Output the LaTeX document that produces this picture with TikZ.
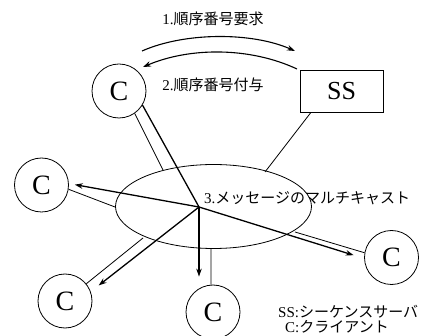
\documentclass[tikz,border=0pt]{standalone}
\usepackage{fontspec}
\setmainfont{Liberation Serif}
\newfontfamily\jp{Noto Sans CJK JP}
\usetikzlibrary{shapes.geometric,arrows.meta}
\begin{document}
\begin{tikzpicture}[x=1pt,y=-1pt,
  cli/.style={circle,draw,line width=0.8pt,minimum size=54pt,inner sep=0pt,font=\fontsize{28}{30}\selectfont},
  srv/.style={rectangle,draw,line width=0.8pt,minimum width=83pt,minimum height=42pt,inner sep=0pt,font=\fontsize{26}{28}\selectfont},
  thinline/.style={line width=0.8pt},
  msg/.style={line width=1.3pt,-{Stealth[length=8pt,width=5.5pt]}},
  msgline/.style={line width=1.3pt},
  req/.style={line width=1.1pt,-{Stealth[length=8pt,width=5.5pt]}},
  lbl/.style={font=\fontsize{15}{17}\selectfont,inner sep=0pt}]
\useasboundingbox (0,0) rectangle (428,336);
% network
\node[ellipse,draw,line width=0.8pt,minimum width=196pt,minimum height=84pt,inner sep=0pt] (net) at (213.5,206.5) {};
% clients and server
\node[cli] (ctop) at (119,91) {C};
\node[cli] (cleft) at (41.5,185) {C};
\node[cli] (cbl) at (65,301) {C};
\node[cli] (cbot) at (213,312) {C};
\node[cli] (cright) at (391.5,257.5) {C};
\node[srv] (ss) at (341.5,91) {\raisebox{-4pt}{SS}};
% hub and contact points on the network
\coordinate (hub) at (199,207);
\coordinate (etop) at (163,170);
\coordinate (eleft) at (115,207);
\coordinate (ebl) at (143,238);
\coordinate (ebot) at (211,249);
\coordinate (eright) at (295,232);
\coordinate (ess) at (265,172);
% physical links
\draw[thinline] (ctop.-55) -- (etop);
\draw[thinline] (cleft.-9) -- (eleft);
\draw[thinline] (cbl.39) -- (ebl);
\draw[thinline] (cbot.94) -- (ebot);
\draw[thinline] (cright.170) -- (eright);
\draw[thinline] (ss.-145) -- (ess);
% multicast
\draw[msgline] (ctop.-31) -- (hub);
\draw[msg,shorten >=6pt] (hub) -- (cleft.3);
\draw[msg,shorten >=10pt] (hub) -- (cbl.20);
\draw[msg,shorten >=8pt] (hub) -- (hub |- cbot.north);
\draw[msg,shorten >=11pt] (hub) -- (cright.182);
% request / reply arcs
\coordinate (a1s) at (142,51);
\coordinate (a1e) at (295,51);
\coordinate (a2s) at (297,69);
\coordinate (a2e) at (143,67);
\draw[req] (a1s) .. controls (185,32) and (252,32) .. (a1e);
\draw[req] (a2s) .. controls (250,47) and (190,47) .. (a2e);
% labels
\node[lbl] (l1) at (213,19) {1.{\jp 順序番号要求}};
\node[lbl] (l2) at (213,85) {2.{\jp 順序番号付与}};
\node[lbl,anchor=west] (l3) at (204,198) {3.{\jp メッセージのマルチキャスト}};
\node[lbl,anchor=west] (lg1) at (278,312) {SS:{\jp シーケンスサーバ}};
\node[lbl,anchor=west] (lg2) at (285,327) {C:{\jp クライアント}};
\end{tikzpicture}
\end{document}
